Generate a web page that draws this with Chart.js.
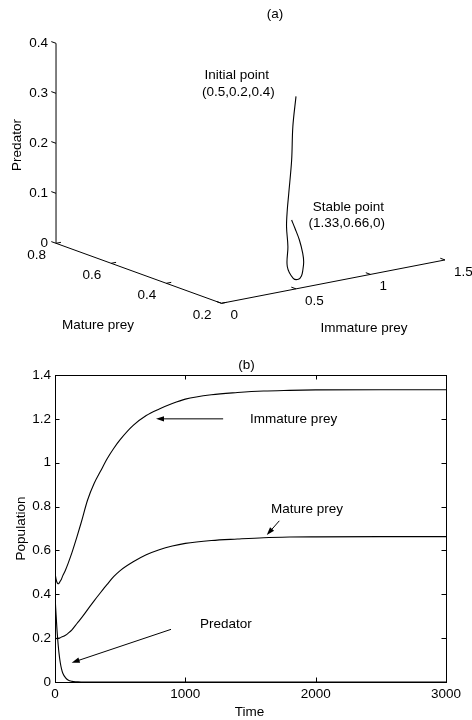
<!DOCTYPE html>
<html>
<head>
<meta charset="utf-8">
<script src="https://cdn.jsdelivr.net/npm/chart.js@4.4.0/dist/chart.umd.min.js"></script>
<style>
  html, body { margin: 0; padding: 0; background: #fff; }
  #wrap { position: relative; width: 472px; height: 720px; }
  #boxA { position: absolute; left: 0; top: 0; width: 472px; height: 335px; }
  #boxB { position: absolute; left: 0; top: 335px; width: 472px; height: 385px; }
</style>
</head>
<body>
<div id="wrap">
  <div id="boxA"><canvas id="phaseChart" width="472" height="335"></canvas></div>
  <div id="boxB"><canvas id="timeChart" width="472" height="385"></canvas></div>
</div>
<script>
// ---- panel (b): population against time ----
var time      = [0, 5, 10, 15, 20, 25, 30, 40, 50, 60, 80, 100, 130, 170, 200, 250, 300, 350, 400, 450, 500, 600, 700, 800, 900, 1000, 1200, 1400, 1600, 1800, 2000, 2500, 3000];
var immature  = [0.5, 0.48, 0.465, 0.455, 0.45, 0.448, 0.45, 0.46, 0.47, 0.485, 0.51, 0.54, 0.59, 0.665, 0.725, 0.83, 0.905, 0.962, 1.018, 1.065, 1.105, 1.17, 1.215, 1.245, 1.27, 1.29, 1.31, 1.32, 1.327, 1.33, 1.332, 1.333, 1.333];
var mature    = [0.2, 0.2, 0.199, 0.198, 0.198, 0.199, 0.2, 0.202, 0.205, 0.207, 0.213, 0.222, 0.238, 0.268, 0.29, 0.33, 0.37, 0.408, 0.445, 0.48, 0.508, 0.548, 0.58, 0.603, 0.62, 0.632, 0.645, 0.652, 0.658, 0.661, 0.662, 0.663, 0.663];
var predator  = [0.4, 0.34, 0.29, 0.24, 0.2, 0.165, 0.135, 0.09, 0.06, 0.04, 0.02, 0.009, 0.003, 0.001, 0, 0, 0, 0, 0, 0, 0, 0, 0, 0, 0, 0, 0, 0, 0, 0, 0, 0, 0];
var timeTicks = [0, 1000, 2000, 3000];
var popTicks  = [0, 0.2, 0.4, 0.6, 0.8, 1, 1.2, 1.4];

// arrows and notes of panel (b), in data units
var noteText  = ['Immature prey', 'Mature prey', 'Predator'];
var noteAt    = [[1497, 1.2], [1658, 0.787], [1113, 0.263]];
var arrowTail = [[1290, 1.2], [1721, 0.735], [890, 0.24]];
var arrowHead = [[775, 1.2], [1625, 0.67], [128, 0.088]];

// ---- panel (a): phase trajectory (immature, mature, predator) ----
var trajImmature = [0.5, 0.49, 0.48, 0.47, 0.46, 0.455, 0.455, 0.46, 0.5, 0.625, 0.679, 0.757, 0.857, 0.958, 1.104, 1.226, 1.311];
var trajMature   = [0.2, 0.206, 0.205, 0.21, 0.21, 0.21, 0.205, 0.21, 0.21, 0.259, 0.277, 0.314, 0.365, 0.423, 0.514, 0.596, 0.654];
var trajPredator = [0.385, 0.324, 0.258, 0.191, 0.158, 0.125, 0.086, 0.045, 0.019, 0, 0, 0, 0, 0, 0, 0, 0];
var immatureTicks = [0, 0.5, 1, 1.5];
var matureTicks   = [0.8, 0.6, 0.4, 0.2];
var predatorTicks = [0, 0.1, 0.2, 0.3, 0.4];

var FONT = '"Liberation Sans", Arial, Helvetica, sans-serif';
var FS = 13.5;
Chart.defaults.font.family = FONT;
Chart.defaults.font.size = FS;
Chart.defaults.color = '#000';

// fixed 3d view: where (0, 0.2, 0) lands and what one unit on each axis does
var ORIGIN = { x: 221.5, y: 303.3 };
var EX = { x: 149, y: -28.9 };
var EY = { x: -275.8, y: -100 };
var EZ = { x: 0, y: -500 };
var MAT_MIN = 0.2, MAT_MAX = 0.8, IMM_MAX = 1.5, PRED_MAX = 0.4;

function project(a, b, c) {
  var m = b - MAT_MIN;
  return { x: ORIGIN.x + a * EX.x + m * EY.x + c * EZ.x,
           y: ORIGIN.y + a * EX.y + m * EY.y + c * EZ.y };
}
function unit(v) {
  var l = Math.sqrt(v.x * v.x + v.y * v.y);
  return { x: v.x / l, y: v.y / l };
}

var phaseDecor = {
  id: 'phaseDecor',
  afterDatasetsDraw: function(chart) {
    var ctx = chart.ctx, xs = chart.scales.x, ys = chart.scales.y;
    function px(p) { return { x: xs.getPixelForValue(p.x), y: ys.getPixelForValue(p.y) }; }
    function seg(p, d, len) {
      var a = px(p), b = px({ x: p.x + d.x * len, y: p.y + d.y * len });
      ctx.beginPath(); ctx.moveTo(a.x, a.y); ctx.lineTo(b.x, b.y); ctx.stroke();
    }
    function label(txt, p, dx, dy, align) {
      var q = px(p);
      ctx.textAlign = align;
      ctx.fillText(txt, q.x + dx, q.y + dy);
    }
    var ux = unit(EX), uy = unit(EY);
    ctx.save();
    ctx.strokeStyle = '#000';
    ctx.lineWidth = 1;
    ctx.fillStyle = '#000';
    ctx.font = FS + 'px ' + FONT;
    ctx.textBaseline = 'middle';

    predatorTicks.forEach(function(t) {
      var p = project(0, MAT_MAX, t);
      seg(p, uy, 5);
      label(String(t), p, -8, 0, 'right');
    });
    matureTicks.forEach(function(t) {
      var p = project(0, t, 0);
      seg(p, ux, 5);
      label(String(t), p, -10, 11.8, 'right');
    });
    immatureTicks.forEach(function(t) {
      var p = project(t, MAT_MIN, 0);
      seg(p, uy, 5);
      label(String(t), p, 9, 12, 'left');
    });

    ctx.textAlign = 'center';
    ctx.fillText('(a)', xs.getPixelForValue(275), ys.getPixelForValue(14));
    ctx.fillText('Mature prey', xs.getPixelForValue(98), ys.getPixelForValue(325));
    ctx.fillText('Immature prey', xs.getPixelForValue(364), ys.getPixelForValue(328));
    ctx.fillText('Initial point', xs.getPixelForValue(236.7), ys.getPixelForValue(75.3));
    ctx.fillText('(0.5,0.2,0.4)', xs.getPixelForValue(238.3), ys.getPixelForValue(92.3));
    ctx.fillText('Stable point', xs.getPixelForValue(348.3), ys.getPixelForValue(207.3));
    ctx.fillText('(1.33,0.66,0)', xs.getPixelForValue(346.7), ys.getPixelForValue(223.3));

    ctx.translate(xs.getPixelForValue(17.3), ys.getPixelForValue(145));
    ctx.rotate(-Math.PI / 2);
    ctx.fillText('Predator', 0, 0);
    ctx.restore();
  }
};

function lineSet(points, width) {
  return { data: points, showLine: true, pointRadius: 0, borderColor: '#000', borderWidth: width, tension: 0 };
}

var trajectory = trajImmature.map(function(v, i) { return project(v, trajMature[i], trajPredator[i]); });
var trajSet = lineSet(trajectory, 1.1);
trajSet.tension = 0.35;

new Chart(document.getElementById('phaseChart'), {
  type: 'scatter',
  data: {
    datasets: [
      trajSet,
      lineSet([project(0, MAT_MIN, 0), project(IMM_MAX, MAT_MIN, 0)], 1),
      lineSet([project(0, MAT_MIN, 0), project(0, MAT_MAX, 0)], 1),
      lineSet([project(0, MAT_MAX, 0), project(0, MAT_MAX, PRED_MAX)], 1)
    ]
  },
  options: {
    responsive: false,
    animation: false,
    layout: { padding: 0, autoPadding: false },
    plugins: { legend: { display: false }, tooltip: { enabled: false } },
    scales: {
      x: { type: 'linear', display: false, min: 0, max: 472 },
      y: { type: 'linear', display: false, min: 0, max: 335, reverse: true }
    }
  },
  plugins: [phaseDecor]
});

// ---- panel (b) ----
var timeDecor = {
  id: 'timeDecor',
  afterDatasetsDraw: function(chart) {
    var ctx = chart.ctx, a = chart.chartArea, xs = chart.scales.x, ys = chart.scales.y;
    ctx.save();
    ctx.strokeStyle = '#000';
    ctx.fillStyle = '#000';
    ctx.lineWidth = 1;
    ctx.strokeRect(Math.round(a.left) + 0.5, Math.round(a.top) + 0.5, Math.round(a.right - a.left), Math.round(a.bottom - a.top));
    var TL = 4.5;
    ctx.beginPath();
    timeTicks.forEach(function(t) {
      var x = Math.round(xs.getPixelForValue(t)) + 0.5;
      ctx.moveTo(x, a.bottom); ctx.lineTo(x, a.bottom - TL);
      ctx.moveTo(x, a.top); ctx.lineTo(x, a.top + TL);
    });
    popTicks.forEach(function(v) {
      var y = Math.round(ys.getPixelForValue(v)) + 0.5;
      ctx.moveTo(a.left, y); ctx.lineTo(a.left + TL, y);
      ctx.moveTo(a.right, y); ctx.lineTo(a.right - TL, y);
    });
    ctx.stroke();

    for (var i = 0; i < arrowTail.length; i++) {
      var x0 = xs.getPixelForValue(arrowTail[i][0]), y0 = ys.getPixelForValue(arrowTail[i][1]);
      var x1 = xs.getPixelForValue(arrowHead[i][0]), y1 = ys.getPixelForValue(arrowHead[i][1]);
      var ang = Math.atan2(y1 - y0, x1 - x0), L = 8, W = 2.7;
      ctx.beginPath(); ctx.moveTo(x0, y0);
      ctx.lineTo(x1 - Math.cos(ang) * L * 0.8, y1 - Math.sin(ang) * L * 0.8); ctx.stroke();
      ctx.beginPath();
      ctx.moveTo(x1, y1);
      ctx.lineTo(x1 - Math.cos(ang) * L - Math.sin(ang) * W, y1 - Math.sin(ang) * L + Math.cos(ang) * W);
      ctx.lineTo(x1 - Math.cos(ang) * L + Math.sin(ang) * W, y1 - Math.sin(ang) * L - Math.cos(ang) * W);
      ctx.closePath(); ctx.fill();
    }

    ctx.font = FS + 'px ' + FONT;
    ctx.textBaseline = 'middle';
    ctx.textAlign = 'left';
    noteText.forEach(function(txt, k) {
      ctx.fillText(txt, xs.getPixelForValue(noteAt[k][0]), ys.getPixelForValue(noteAt[k][1]));
    });
    ctx.textAlign = 'center';
    ctx.fillText('(b)', (a.left + a.right) / 2 - 4, a.top - 10);
    ctx.fillText('Time', (a.left + a.right) / 2 - 1, a.bottom + 30);
    ctx.translate(a.left - 34, (a.top + a.bottom) / 2);
    ctx.rotate(-Math.PI / 2);
    ctx.fillText('Population', 0, 0);
    ctx.restore();
  }
};

function series(values) {
  return {
    data: time.map(function(t, i) { return { x: t, y: values[i] }; }),
    showLine: true, pointRadius: 0, borderColor: '#000', borderWidth: 1.1,
    cubicInterpolationMode: 'monotone'
  };
}

new Chart(document.getElementById('timeChart'), {
  type: 'scatter',
  data: { datasets: [series(immature), series(mature), series(predator)] },
  options: {
    responsive: false,
    animation: false,
    layout: { padding: { top: 40, right: 26, left: 0, bottom: 0 } },
    plugins: { legend: { display: false }, tooltip: { enabled: false } },
    scales: {
      x: {
        type: 'linear', min: 0, max: 3000,
        afterBuildTicks: function(s) { s.ticks = timeTicks.map(function(v) { return { value: v }; }); },
        afterFit: function(s) { s.height = 38; },
        grid: { display: false, drawTicks: false },
        border: { display: false },
        ticks: { padding: 4, maxRotation: 0, callback: function(v) { return String(v); } }
      },
      y: {
        type: 'linear', min: 0, max: 1.4,
        afterBuildTicks: function(s) { s.ticks = popTicks.map(function(v) { return { value: v }; }); },
        afterFit: function(s) { s.width = 55; },
        grid: { display: false, drawTicks: false },
        border: { display: false },
        ticks: { padding: 4, callback: function(v) { return String(v); } }
      }
    }
  },
  plugins: [timeDecor]
});
</script>
</body>
</html>
